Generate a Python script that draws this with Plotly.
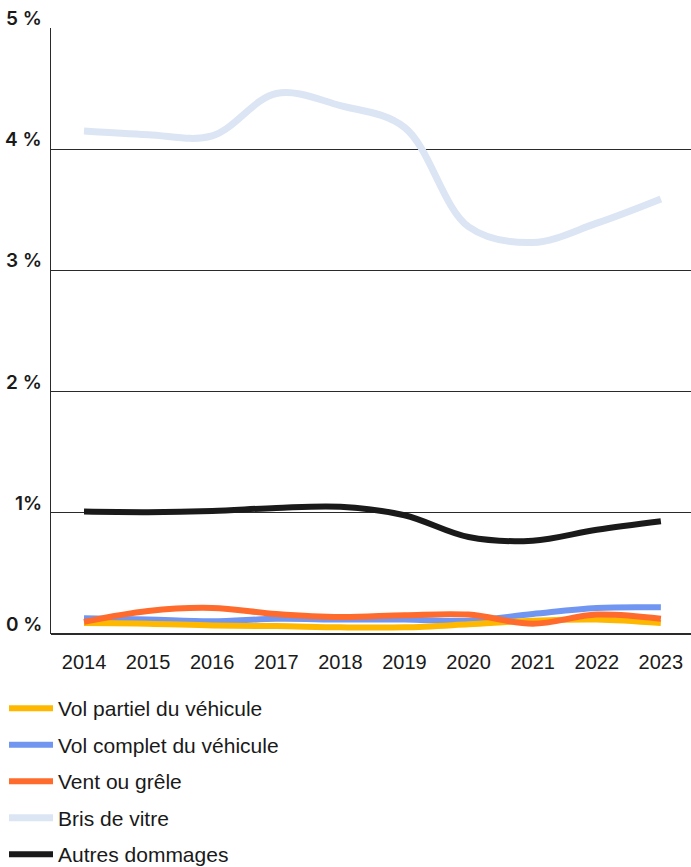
import plotly.graph_objects as go

years = [2014, 2015, 2016, 2017, 2018, 2019, 2020, 2021, 2022, 2023]

vol_partiel = [0.09, 0.085, 0.07, 0.065, 0.055, 0.055, 0.08, 0.11, 0.12, 0.09]
vol_complet = [0.13, 0.12, 0.105, 0.125, 0.12, 0.12, 0.11, 0.165, 0.215, 0.22]
vent_grele = [0.10, 0.19, 0.215, 0.165, 0.14, 0.155, 0.16, 0.085, 0.16, 0.125]
bris_vitre = [4.15, 4.12, 4.11, 4.46, 4.36, 4.18, 3.36, 3.23, 3.39, 3.59]
autres = [1.01, 1.005, 1.015, 1.04, 1.05, 0.98, 0.80, 0.77, 0.86, 0.93]

y_ticks = [0, 1, 2, 3, 4, 5]
y_tick_labels = ["0 %", "1%", "2 %", "3 %", "4 %", "5 %"]

series = [
    ("Vol partiel du véhicule", vol_partiel, "#FFB800", 6),
    ("Vol complet du véhicule", vol_complet, "#7096F2", 6),
    ("Vent ou grêle", vent_grele, "#FF6B2C", 6),
    ("Bris de vitre", bris_vitre, "#DCE5F4", 7),
    ("Autres dommages", autres, "#1A1A1A", 6),
]

fig = go.Figure()
# draw order: light background line first, then the rest
draw_order = [3, 4, 1, 0, 2]
for i in draw_order:
    name, vals, color, width = series[i]
    fig.add_trace(go.Scatter(
        x=years, y=vals, name=name, mode="lines",
        line=dict(color=color, width=width, shape="spline", smoothing=1.0),
        legendrank=i + 1, legendgroup=name,
    ))

# percentage labels sit just above each gridline, left of the axis
for v, txt in zip(y_ticks, y_tick_labels):
    fig.add_annotation(
        xref="paper", yref="y", x=0, y=v, text=txt, showarrow=False,
        xanchor="right", yanchor="bottom", xshift=-7, yshift=-4,
        font=dict(family="Inter", size=19, color="#1a1a1a", weight=600),
    )

fig.update_layout(
    width=691, height=867,
    margin=dict(l=51, r=0, t=28, b=233, autoexpand=False),
    paper_bgcolor="white", plot_bgcolor="white",
    font=dict(family="Liberation Sans", size=20, color="#1a1a1a"),
    showlegend=True,
    legend=dict(
        orientation="v", xref="container", yref="container",
        x=4 / 691, y=1 - 688 / 867, xanchor="left", yanchor="top",
        font=dict(family="Liberation Sans", size=21, color="#1a1a1a"),
        tracegroupgap=6.2, itemwidth=44,
        bgcolor="rgba(0,0,0,0)",
    ),
    xaxis=dict(
        range=[2013.485, 2023.47], tickmode="array", tickvals=years,
        ticktext=[str(y) for y in years], showgrid=False, zeroline=False,
        showline=False, ticks="", ticklabelstandoff=14, tickangle=0,
        tickfont=dict(family="Liberation Sans", size=20, color="#1a1a1a"),
    ),
    yaxis=dict(
        range=[0, 5], tickmode="array", tickvals=y_ticks, showticklabels=False,
        showgrid=True, gridcolor="#2a2a2a", gridwidth=1,
        zeroline=True, zerolinecolor="#2a2a2a", zerolinewidth=1.5,
        showline=True, linecolor="#2a2a2a", linewidth=1, ticks="",
    ),
)

fig.write_html("out.html")
